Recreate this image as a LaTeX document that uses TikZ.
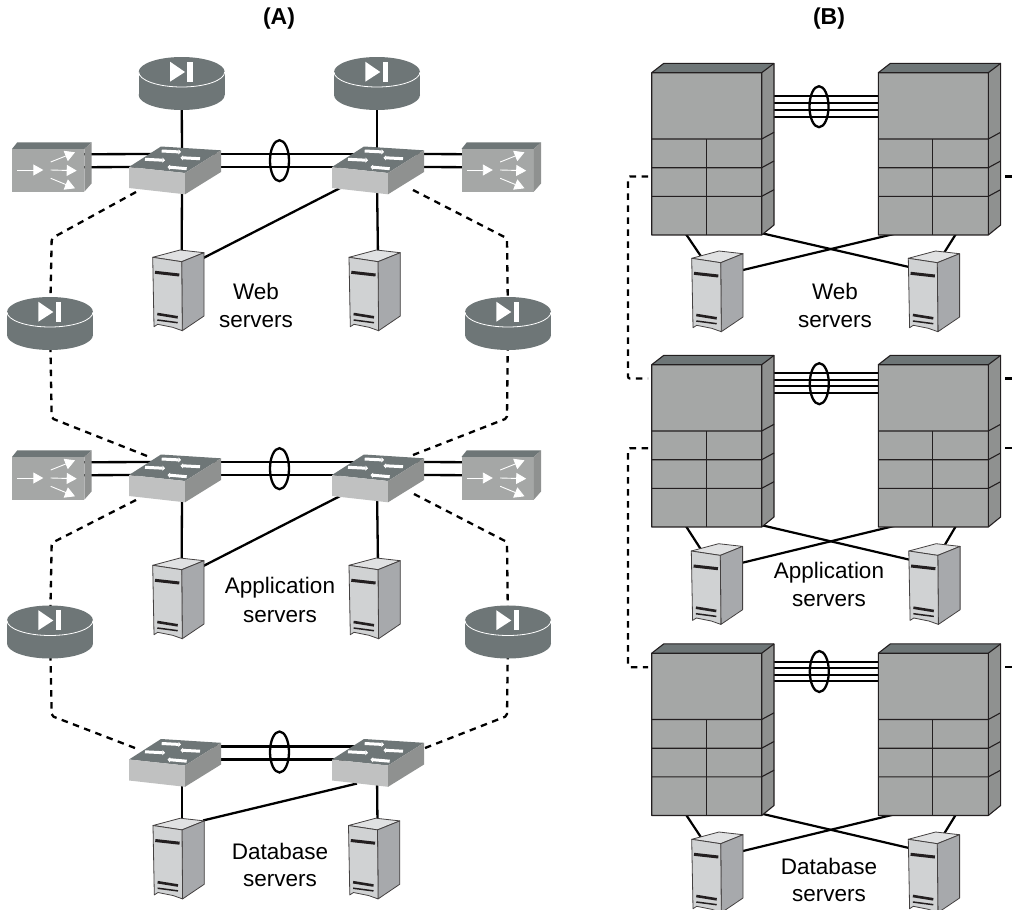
\documentclass[tikz,border=0pt]{standalone}
\usepackage{fontspec}
\setmainfont{Liberation Sans}
\usetikzlibrary{shapes.geometric,arrows.meta}
\pgfdeclarelayer{bg}
\pgfsetlayers{bg,main}
\definecolor{topdk}{HTML}{6E7677}
\definecolor{facemd}{HTML}{A5A7A6}
\definecolor{sidemd}{HTML}{8F9190}
\definecolor{swfront}{HTML}{C0C1C1}
\definecolor{srvfront}{HTML}{D0D2D3}
\definecolor{srvside}{HTML}{A7A9AC}
\definecolor{srvtop}{HTML}{E0E1E2}
\definecolor{strokedk}{HTML}{231F20}
\tikzset{
  x=1pt,y=-1pt,
  link/.style={line width=2.3pt,black},
  thinlink/.style={line width=2.2pt,black},
  quadlink/.style={line width=1.9pt,black},
  dashlink/.style={line width=2.3pt,black,rounded corners=2pt,dash pattern=on 6.5pt off 5.5pt},
  ring/.style={ellipse,draw=black,line width=2.3pt,fill=none,inner sep=0pt},
  ringA/.style={ring,minimum width=19pt,minimum height=41pt},
  ringB/.style={ring,minimum width=19pt,minimum height=41pt},
  label/.style={font=\fontsize{22.5}{26}\selectfont,inner sep=0pt,text=black},
  heading/.style={font=\fontsize{23}{27}\selectfont\bfseries,inner sep=0pt},
  routerbox/.pic={
    \fill[topdk] (-43,0) rectangle (43,23);
    \fill[topdk] (0,23) ellipse [x radius=43,y radius=15];
    \fill[topdk] (0,0) ellipse [x radius=43,y radius=15];
    \draw[white,line width=0.8pt] (-43,0) arc [start angle=180,end angle=0,x radius=43,y radius=15];
    \fill[white] (-11.7,-10.3) -- (-11.7,9.7) -- (3.3,0) -- cycle;
    \fill[white] (5.6,-10.3) rectangle (11,9.7);
    \coordinate (-c) at (0,10);
  },
  swarrow/.style={white,line width=3pt,-{Triangle[width=5pt,length=2.5pt]}},
  switchbox/.pic={
    \fill[topdk] (32,-20.5) -- (92,-16.7) -- (56,6) -- (0,0) -- cycle;
    \fill[swfront] (0,0) -- (56,6) -- (56,27.3) -- (0,21) -- cycle;
    \fill[sidemd] (56,6) -- (92,-16.7) -- (92,5) -- (56,27.3) -- cycle;
    \draw[swarrow] (32.7,-16) -- (52,-15);
    \draw[swarrow] (16,-7.7) -- (36,-6.7);
    \draw[swarrow] (71,-8.3) -- (51.5,-9.3);
    \draw[swarrow] (57.7,1.7) -- (38.5,0);
    \coordinate (-l1) at (32,-13);
    \coordinate (-l2) at (12,0);
    \coordinate (-r1) at (80,-13);
    \coordinate (-r2) at (80,0);
    \coordinate (-ta) at (53,-8);
    \coordinate (-tb) at (45,-8);
    \coordinate (-ba) at (53,15);
    \coordinate (-bb) at (45,15);
    \coordinate (-x) at (14,18);
    \coordinate (-y) at (25,24);
  },
  lbbox/.pic={
    \fill[topdk] (0,0) -- (5.3,-6.7) -- (79.7,-6.7) -- (72.3,0) -- cycle;
    \fill[facemd] (0,0) rectangle (72.3,42.7);
    \fill[sidemd] (72.3,0) -- (79.7,-6.7) -- (79.7,34.3) -- (72.3,42.7) -- cycle;
    \draw[white,line width=0.9pt,-{Triangle[width=11pt,length=10pt]}] (5.3,21) -- (31.3,21);
    \draw[white,line width=0.9pt,-{Triangle[width=11pt,length=10pt]}] (38.7,13) -- (63,3.3);
    \draw[white,line width=0.9pt,-{Triangle[width=11pt,length=10pt]}] (38.7,21) -- (64.7,21.7);
    \draw[white,line width=0.9pt,-{Triangle[width=11pt,length=10pt]}] (38.7,29.3) -- (63,39.3);
    \coordinate (-u) at (40,5.3);
    \coordinate (-d) at (40,18.3);
  },
  srvedge/.style={draw=strokedk!85,line width=0.8pt,line join=round},
  serverbox/.pic={
    \draw[srvedge,fill=srvtop] (0,0) -- (27.3,-7.3) -- (51.3,-4.6) -- (29,4.4) -- cycle;
    \draw[srvedge,fill=srvside] (29,4.4) -- (51.3,-4.6) -- (51.3,58.7) -- (29.6,73.4) -- cycle;
    \draw[srvedge,fill=srvfront] (0,0) -- (29,4.4) -- (29.6,73.4) -- (20,70) -- (5,67) -- (1.3,69.4) -- cycle;
    \draw[strokedk,line width=3pt] (2.3,15) -- (26.6,17.7);
    \draw[strokedk,line width=2.6pt] (4.6,56.7) -- (25,60);
    \draw[strokedk,line width=1.5pt] (4.6,62.7) -- (25,65.4);
    \coordinate (-t) at (29,0);
    \coordinate (-r) at (50,1);
    \coordinate (-rr) at (50,-5);
    \coordinate (-ra) at (50,12);
    \coordinate (-la) at (2,9);
    \coordinate (-ka) at (11.3,1);
    \coordinate (-kb) at (33,-1);
  },
  chedge/.style={strokedk,line width=1.1pt,line join=round},
  chassis/.pic={
    \fill[topdk] (0,0) -- (12,-9.3) -- (122.3,-9.3) -- (110,0) -- cycle;
    \fill[facemd] (0,0) rectangle (110,162.3);
    \fill[sidemd] (110,0) -- (122.3,-9.3) -- (122.3,152.3) -- (110,162.3) -- cycle;
    \draw[chedge] (0,0) -- (12,-9.3) -- (122.3,-9.3) -- (122.3,152.3) -- (110,162.3) -- (0,162.3) -- cycle;
    \draw[chedge] (0,0) -- (110,0) -- (122.3,-9.3) (110,0) -- (110,162.3);
    \draw[chedge] (0,66.3) -- (110,66.3) -- (122.3,59.6);
    \draw[chedge] (0,95) -- (110,95) -- (122.3,88.3);
    \draw[chedge] (0,123.6) -- (110,123.6) -- (122.3,117);
    \draw[chedge] (54.6,66.3) -- (54.6,162.3);
    \coordinate (-l1) at (5,23.3);
    \coordinate (-l2) at (5,30);
    \coordinate (-l3) at (5,37.3);
    \coordinate (-l4) at (5,44);
    \coordinate (-r1) at (115,23.3);
    \coordinate (-r2) at (115,30);
    \coordinate (-r3) at (115,37.3);
    \coordinate (-r4) at (115,44);
    \coordinate (-m1) at (5,8.6);
    \coordinate (-m2) at (5,15);
    \coordinate (-m3) at (5,21.6);
    \coordinate (-m4) at (5,28);
    \coordinate (-n1) at (115,8.6);
    \coordinate (-n2) at (115,15);
    \coordinate (-n3) at (115,21.6);
    \coordinate (-n4) at (115,28);
    \coordinate (-ba) at (33.3,160);
    \coordinate (-bb) at (110,160.5);
    \coordinate (-bc) at (21,160);
    \coordinate (-bd) at (78.4,160);
  }
}
\begin{document}
\begin{tikzpicture}
\useasboundingbox (0,0) rectangle (1015,910);
\node[heading] (titleA) at (279,19) {(A)};
\node[heading] (titleB) at (829,19) {(B)};

% ---------- Panel A
\pic (ra1) at (181.7,72) {routerbox};
\pic (ra2) at (377,72) {routerbox};
\pic (ra3) at (50,312) {routerbox};
\pic (ra4) at (508,312) {routerbox};
\pic (ra5) at (50,620.5) {routerbox};
\pic (ra6) at (508,620.5) {routerbox};

\pic (lb1) at (12,149) {lbbox};
\pic (lb2) at (461.5,149) {lbbox};
\pic (lb3) at (12,457) {lbbox};
\pic (lb4) at (461.5,457) {lbbox};

\pic (sw1) at (129,167) {switchbox};
\pic (sw2) at (332,167) {switchbox};
\pic (sw3) at (129,475) {switchbox};
\pic (sw4) at (332,475) {switchbox};
\pic (sw5) at (129,759.5) {switchbox};
\pic (sw6) at (332,759.5) {switchbox};

\pic (sa1) at (152.7,257.3) {serverbox};
\pic (sa2) at (349,257.3) {serverbox};
\pic (sa3) at (152.7,565.3) {serverbox};
\pic (sa4) at (349,565.3) {serverbox};
\pic (sa5) at (153,825.5) {serverbox};
\pic (sa6) at (348.5,825.5) {serverbox};

\node[ringA] (ringa1) at (279.5,160.7) {};
\node[ringA] (ringa2) at (279.5,468.7) {};
\node[ringA] (ringa3) at (279.5,752) {};

\node[label] (t1) at (256,291) {Web};
\node[label] (t2) at (256,321.5) {servers};
\node[label] (t3) at (280,587.5) {Application};
\node[label] (t4) at (280,616.5) {servers};
\node[label] (t5) at (280,851) {Database};
\node[label] (t6) at (280,880.5) {servers};

% ---------- Panel B
\pic (c1L) at (651.7,72.7) {chassis};
\pic (c1R) at (878.3,72.7) {chassis};
\pic (c2L) at (651.7,364.7) {chassis};
\pic (c2R) at (878.3,364.7) {chassis};
\pic (c3L) at (651.7,653.2) {chassis};
\pic (c3R) at (878.3,653.2) {chassis};

\pic (sb1) at (691.7,258.3) {serverbox};
\pic (sb2) at (908.3,258.3) {serverbox};
\pic (sb3) at (691.3,551) {serverbox};
\pic (sb4) at (908.8,551) {serverbox};
\pic (sb5) at (691.7,839.3) {serverbox};
\pic (sb6) at (908.3,839.3) {serverbox};

\node[ringB] (ringb1) at (819,106.7) {};
\node[ringB] (ringb2) at (819.3,383.7) {};
\node[ringB] (ringb3) at (819.3,671.5) {};

\node[label] (t7) at (835,291) {Web};
\node[label] (t8) at (835,321.5) {servers};
\node[label] (t9) at (829,572.5) {Application};
\node[label] (t10) at (829,600.5) {servers};
\node[label] (t11) at (829,866) {Database};
\node[label] (t12) at (829,895.5) {servers};

% free ends of the dashed runs
\coordinate (kA1) at (51.7,238.3); \coordinate (kA2) at (51.7,418.3);
\coordinate (kA3) at (507,238.3);  \coordinate (kA4) at (507,418.3);
\coordinate (kA5) at (51.7,543);   \coordinate (kA6) at (51.7,716);
\coordinate (kA7) at (507,542);    \coordinate (kA8) at (507,716);
\coordinate (dA1) at (136,192);    \coordinate (dA2) at (147,456);
\coordinate (dA3) at (413,190);    \coordinate (dA4) at (413,455);
\coordinate (dA5) at (136,500);    \coordinate (dA6) at (135,748);
\coordinate (dA7) at (414,494);    \coordinate (dA8) at (425,748);

\coordinate (kB1) at (628,176.5); \coordinate (kB2) at (628,378.5);
\coordinate (kB3) at (628,448.3); \coordinate (kB4) at (628,667.3);
\coordinate (hB1) at (648,176.5); \coordinate (hB2) at (648,378.5);
\coordinate (hB3) at (648,448.3); \coordinate (hB4) at (648,667.3);
\coordinate (jB1) at (1005,176.5); \coordinate (jB2) at (1005,378.5);
\coordinate (jB3) at (1005,448.3); \coordinate (jB4) at (1005,667.3);
\coordinate (eB1) at (1012.3,176.5); \coordinate (eB2) at (1012.3,378.5);
\coordinate (eB3) at (1012.3,448.3); \coordinate (eB4) at (1012.3,667.3);

\begin{pgfonlayer}{bg}
  % A: vertical links
  \draw[link] (ra1-c) -- (sw1-ta);
  \draw[link] (ra2-c) -- (sw2-tb);
  \draw[link] (sw1-ba) -- (sa1-t);
  \draw[link] (sw2-bb) -- (sa2-t);
  \draw[link] (sw3-ba) -- (sa3-t);
  \draw[link] (sw4-bb) -- (sa4-t);
  \draw[link] (sw5-ba) -- (sa5-t);
  \draw[link] (sw6-bb) -- (sa6-t);
  % A: crossing links
  \draw[link] (sw2-x) -- (sa1-r);
  \draw[link] (sw4-x) -- (sa3-r);
  \draw[link] (sw6-y) -- (sa5-rr);
  % A: pairs
  \foreach \a/\b in {sw1/sw2,sw3/sw4,sw5/sw6}{
    \draw[link] (\a-r1) -- (\b-l1);
    \draw[link] (\a-r2) -- (\b-l2);
  }
  \foreach \a/\b in {lb1/sw1,lb3/sw3}{
    \draw[link] (\a-u) -- (\b-l1);
    \draw[link] (\a-d) -- (\b-l2);
  }
  \foreach \a/\b in {sw2/lb2,sw4/lb4}{
    \draw[link] (\a-r1) -- (\b-u);
    \draw[link] (\a-r2) -- (\b-d);
  }
  % A: dashed runs
  \draw[dashlink] (dA1) -- (kA1) -- (ra3-c);
  \draw[dashlink] (dA2) -- (kA2) -- (ra3-c);
  \draw[dashlink] (dA3) -- (kA3) -- (ra4-c);
  \draw[dashlink] (dA4) -- (kA4) -- (ra4-c);
  \draw[dashlink] (dA5) -- (kA5) -- (ra5-c);
  \draw[dashlink] (dA6) -- (kA6) -- (ra5-c);
  \draw[dashlink] (dA7) -- (kA7) -- (ra6-c);
  \draw[dashlink] (dA8) -- (kA8) -- (ra6-c);
  % B: chassis to servers
  \foreach \r/\a/\b in {1/sb1/sb2,2/sb3/sb4,3/sb5/sb6}{
    \draw[thinlink] (c\r L-ba) -- (\a-ka);
    \draw[thinlink] (c\r R-bd) -- (\b-kb);
    \draw[thinlink] (c\r L-bb) -- (\b-la);
    \draw[thinlink] (c\r R-bc) -- (\a-ra);
  }
  \foreach \n in {1,2,3,4}{
    \draw[quadlink] (c1L-r\n) -- (c1R-l\n);
    \draw[quadlink] (c2L-n\n) -- (c2R-m\n);
    \draw[quadlink] (c3L-n\n) -- (c3R-m\n);
  }
  % B: dashed runs
  \draw[dashlink] (hB1) -- (kB1) -- (kB2) -- (hB2);
  \draw[dashlink] (hB3) -- (kB3) -- (kB4) -- (hB4);
  \foreach \n in {1,2,3,4}{
    \draw[line width=2.3pt,black] (jB\n) -- (eB\n);
  }
\end{pgfonlayer}
\end{tikzpicture}
\end{document}
